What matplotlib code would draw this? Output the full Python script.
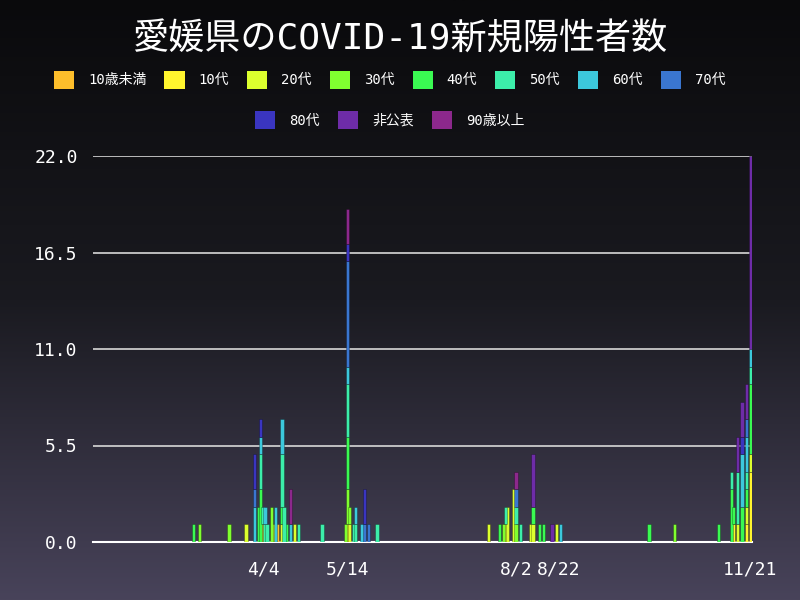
import numpy as np
import pandas as pd
import matplotlib
matplotlib.use("Agg")
import matplotlib.pyplot as plt
from matplotlib.colors import LinearSegmentedColormap
from matplotlib.patches import Patch

plt.rcParams['font.family'] = ['DejaVu Sans Mono', 'Noto Sans CJK JP']

# age groups, bottom to top of each stack
groups = ["10歳未満", "10代", "20代", "30代", "40代", "50代", "60代", "70代", "80代", "非公表", "90歳以上"]
colors = ["#FDBE2B", "#FFF52E", "#DCFF2E", "#80FF30", "#3AFA52", "#3CEEAA",
          "#3CC8DC", "#3A76D0", "#3A35C0", "#6E2CA8", "#8C288C"]

# daily new cases per group (2020, month/day: count)
under10 = {"4/4": 1, "4/11": 1}
teens = {"5/14": 1, "11/13": 1, "11/19": 1, "11/21": 4}
twenties = {"3/27": 1, "4/9": 1, "4/13": 1, "4/19": 1, "5/15": 1, "7/20": 1, "7/28": 1,
            "7/29": 2, "8/1": 3, "8/9": 1, "8/10": 1, "8/21": 1, "11/15": 1, "11/19": 1,
            "11/21": 1}
thirties = {"3/5": 1, "3/19": 1, "4/8": 2, "5/13": 1, "5/14": 2, "5/15": 1, "7/27": 1,
            "8/2": 1, "10/16": 1}
forties = {"3/2": 1, "4/2": 2, "4/3": 3, "4/13": 1, "4/15": 1, "5/14": 3, "7/25": 1,
           "8/10": 1, "8/13": 1, "8/15": 1, "10/4": 1, "11/6": 1, "11/12": 3, "11/13": 1,
           "11/17": 2, "11/19": 1, "11/21": 4}
fifties = {"4/3": 2, "4/4": 1, "4/5": 1, "4/6": 1, "4/13": 3, "4/14": 2, "4/21": 1,
           "5/2": 1, "5/14": 3, "5/17": 1, "5/18": 1, "5/28": 1, "7/28": 1, "8/2": 1,
           "8/4": 1, "11/12": 1, "11/15": 3, "11/19": 1, "11/21": 1}
sixties = {"3/31": 2, "4/3": 1, "4/5": 1, "4/10": 2, "4/13": 2, "4/17": 1, "5/14": 1,
           "5/18": 1, "5/21": 1, "8/23": 1, "11/17": 3, "11/19": 2, "11/21": 1}
seventies = {"3/31": 1, "5/14": 6, "5/22": 1, "5/24": 1, "8/2": 1, "11/19": 1}
eighties = {"3/31": 2, "4/3": 1, "5/14": 1, "5/22": 2, "11/17": 1}
undisclosed = {"8/10": 3, "8/19": 1, "11/15": 2, "11/17": 2, "11/19": 2, "11/21": 11}
over90 = {"4/17": 2, "5/14": 2, "8/2": 1}

series = [under10, teens, twenties, thirties, forties, fifties, sixties,
          seventies, eighties, undisclosed, over90]

tick_dates = ["4/4", "5/14", "8/2", "8/22", "11/21"]


def to_date(md):
    m, d = md.split("/")
    return pd.Timestamp(2020, int(m), int(d))


days = pd.date_range("2020-01-14", "2020-11-21")
table = pd.DataFrame(0, index=days, columns=groups)
for name, data in zip(groups, series):
    for md, n in data.items():
        table.loc[to_date(md), name] = n

fig = plt.figure(figsize=(8, 6), dpi=100)

# background gradient
bg = fig.add_axes([0, 0, 1, 1])
grad = np.linspace(0, 1, 256).reshape(-1, 1)
cmap = LinearSegmentedColormap.from_list("bg", ["#0a0a0c", "#1a1a20", "#48435a"])
bg.imshow(grad, aspect="auto", cmap=cmap, extent=[0, 1, 0, 1])
bg.axis("off")

ax = fig.add_axes([93 / 800, 58 / 600, 659 / 800, 386 / 600])
ax.patch.set_alpha(0)

bottom = np.zeros(len(table))
for name, col in zip(groups, colors):
    vals = table[name].values
    mask = vals > 0
    ax.bar(table.index[mask], vals[mask], bottom=bottom[mask], width=1.6,
           color=col, edgecolor=(0, 0, 0, 0.3), linewidth=0.6, zorder=3)
    bottom += vals

ax.set_ylim(0, 22)
ax.set_xlim(pd.Timestamp("2020-01-14 12:00"), pd.Timestamp("2020-11-21 18:00"))
ax.set_yticks([0, 5.5, 11, 16.5, 22])
ax.set_yticklabels(["0.0", "5.5", "11.0", "16.5", "22.0"])
ax.set_xticks([to_date(t) for t in tick_dates])
ax.set_xticklabels(tick_dates)
ax.tick_params(axis="both", length=0, colors="white", labelsize=13)
ax.tick_params(axis="y", pad=11)
ax.tick_params(axis="x", pad=13)
ax.grid(axis="y", color="#d8d8d8", linewidth=1.2, zorder=1)
for side in ["left", "right", "top"]:
    ax.spines[side].set_visible(False)
ax.spines["bottom"].set_color("white")
ax.spines["bottom"].set_linewidth(1.5)

fig.text(0.5, 0.935, "愛媛県のCOVID-19新規陽性者数", color="white", fontsize=26,
         ha="center", va="center")

handles = [Patch(facecolor=c, edgecolor="none") for c in colors]
leg_kw = dict(frameon=False, fontsize=10, labelcolor="white", handlelength=1.45,
              handleheight=1.6, handletextpad=1.0, columnspacing=1.3)
fig.legend(handles[:8], groups[:8], ncol=8, loc="center", bbox_to_anchor=(0.487, 0.867), **leg_kw)
fig.legend(handles[8:], groups[8:], ncol=3, loc="center", bbox_to_anchor=(0.487, 0.8), **leg_kw)

fig.savefig("out.png", dpi=100)
